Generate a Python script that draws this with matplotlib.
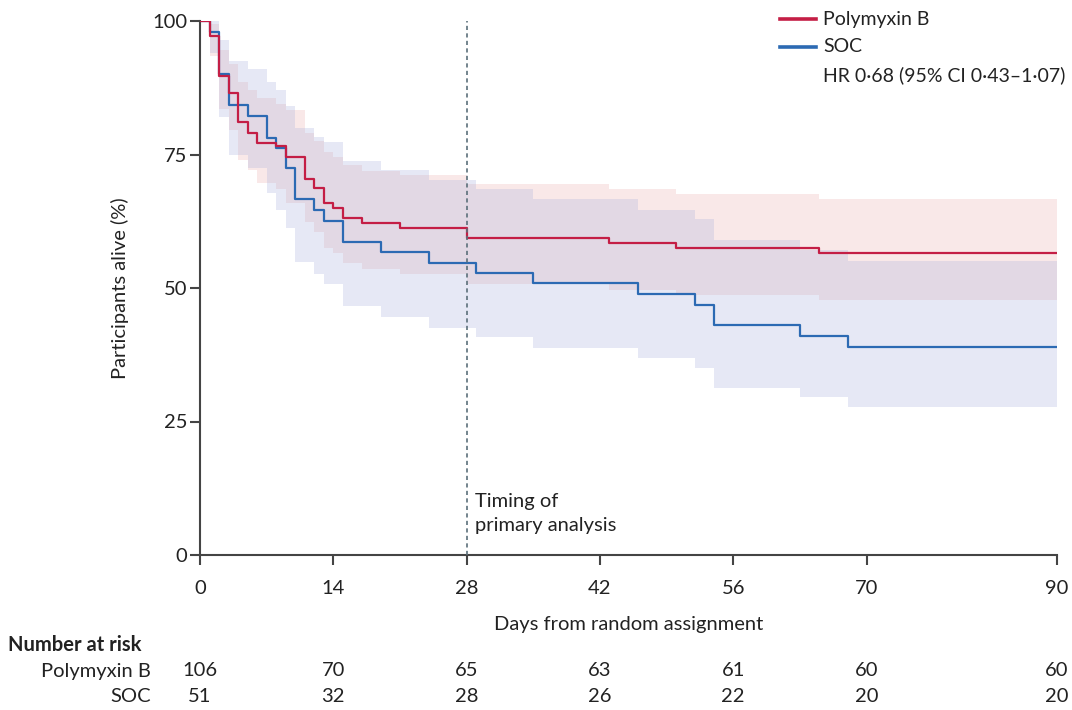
import matplotlib
matplotlib.use("Agg")
import matplotlib.pyplot as plt
import matplotlib.transforms as mtrans
from matplotlib import font_manager

names = {f.name for f in font_manager.fontManager.ttflist}
fam = [f for f in ["Lato", "Open Sans", "DejaVu Sans"] if f in names]
plt.rcParams['font.family'] = fam

# ---- data ----
pmb_t = [0, 1, 2, 3, 4, 5, 6, 8, 9, 11, 12, 13, 14, 15, 17, 21, 28, 43, 50, 65, 90]
pmb_s = [100, 97.2, 89.7, 86.6, 81.0, 79.1, 77.2, 76.5, 74.6, 70.5, 68.7, 65.9, 65.0, 63.2, 62.1, 61.3, 59.4, 58.4, 57.4, 56.5, 56.5]
pmb_lo = [100, 93.5, 83.5, 79.5, 74.0, 72.1, 69.6, 68.5, 66.0, 62.4, 60.5, 57.4, 56.5, 54.6, 53.5, 52.6, 50.7, 49.6, 48.7, 47.8, 47.8]
pmb_hi = [100, 99.5, 94.5, 92.0, 88.5, 87.0, 85.5, 84.5, 83.3, 79.0, 77.5, 75.5, 74.5, 73.0, 72.0, 71.2, 69.4, 68.5, 67.6, 66.7, 66.7]

soc_t = [0, 1, 2, 3, 5, 7, 8, 9, 10, 12, 13, 15, 19, 24, 29, 35, 46, 52, 54, 63, 68, 90]
soc_s = [100, 98.0, 90.1, 84.3, 82.2, 78.1, 76.3, 72.4, 66.6, 64.6, 62.6, 58.7, 56.7, 54.7, 52.8, 50.9, 48.9, 46.9, 43.1, 41.1, 39.0, 39.0]
soc_lo = [100, 94.0, 82.0, 74.9, 72.5, 67.8, 64.7, 61.2, 54.8, 52.7, 50.7, 46.6, 44.5, 42.6, 40.8, 38.8, 36.8, 35.0, 31.3, 29.5, 27.8, 27.8]
soc_hi = [100, 100, 96.5, 92.5, 91.0, 88.5, 87.0, 84.0, 80.0, 78.3, 77.4, 73.8, 72.1, 70.2, 68.5, 66.6, 64.7, 62.9, 59.0, 57.2, 55.1, 55.1]

x_ticks = [0, 14, 28, 42, 56, 70, 90]
y_ticks = [0, 25, 50, 75, 100]
risk_pmb = [106, 70, 65, 63, 61, 60, 60]
risk_soc = [51, 32, 28, 26, 22, 20, 20]

red = '#c41e45'
blue = '#2c6ab3'
txt = '#222222'
fs = 14.5

fig = plt.figure(figsize=(10.72, 7.10), dpi=100)
ax = fig.add_axes([200/1072, 1-555/710, 857/1072, 534/710])

ax.fill_between(pmb_t, pmb_lo, pmb_hi, step='post', color='#f9e8e8', lw=0, zorder=1)
ax.fill_between(soc_t, soc_lo, soc_hi, step='post', color=(175/255, 182/255, 222/255), alpha=0.3, lw=0, zorder=2)
ax.step(pmb_t, pmb_s, where='post', color=red, lw=1.6, zorder=4)
ax.step(soc_t, soc_s, where='post', color=blue, lw=1.6, zorder=3)

ax.plot([28, 28], [0, 100], color='#5b6f7a', lw=1.2, ls=(0, (2.5, 2.0)), zorder=5)
ax.text(28.9, 4.0, "Timing of\nprimary analysis", fontsize=fs, ha='left', va='bottom', color=txt, linespacing=1.45)

ax.set_xlim(0, 90)
ax.set_ylim(0, 100)
ax.set_xticks(x_ticks)
ax.set_xticklabels([str(v) for v in x_ticks])
ax.set_yticks(y_ticks)
ax.set_yticklabels([str(v) for v in y_ticks])
for s in ['top', 'right']:
    ax.spines[s].set_visible(False)
for s in ['left', 'bottom']:
    ax.spines[s].set_color('#444444')
    ax.spines[s].set_linewidth(1.5)
ax.tick_params(axis='both', length=7, width=1.5, color='#444444', labelsize=fs, labelcolor=txt)
ax.tick_params(axis='x', pad=11)
ax.tick_params(axis='y', pad=2)
ax.set_xlabel("Days from random assignment", fontsize=fs, color=txt, labelpad=14)
ax.set_ylabel("Participants alive (%)", fontsize=fs, color=txt, labelpad=17)

# legend drawn manually in figure pixel coords
def fy(p):
    return 1 - p/710
def fx(p):
    return p/1072
lfs = 14
for yp, col, lab in [(19, red, "Polymyxin B"), (47, blue, "SOC")]:
    fig.add_artist(plt.Line2D([fx(780), fx(816)], [fy(yp), fy(yp)], color=col, lw=2.6))
    fig.text(fx(823), fy(yp), lab, fontsize=lfs, ha='left', va='center', color=txt)
fig.text(fx(823), fy(75), "HR 0·68 (95% CI 0·43–1·07)", fontsize=lfs, ha='left', va='center', color=txt)

tr = mtrans.blended_transform_factory(ax.transData, fig.transFigure)
fig.text(fx(8), fy(645), "Number at risk", fontsize=fs, fontweight='bold', ha='left', va='center', color=txt)
fig.text(fx(151), fy(671), "Polymyxin B", fontsize=fs, ha='right', va='center', color=txt)
fig.text(fx(151), fy(697), "SOC", fontsize=fs, ha='right', va='center', color=txt)
for xv, a, b in zip(x_ticks, risk_pmb, risk_soc):
    ax.text(xv, fy(671), str(a), transform=tr, fontsize=fs, ha='center', va='center', color=txt, clip_on=False)
    ax.text(xv, fy(697), str(b), transform=tr, fontsize=fs, ha='center', va='center', color=txt, clip_on=False)

fig.savefig("out.png", dpi=100)
